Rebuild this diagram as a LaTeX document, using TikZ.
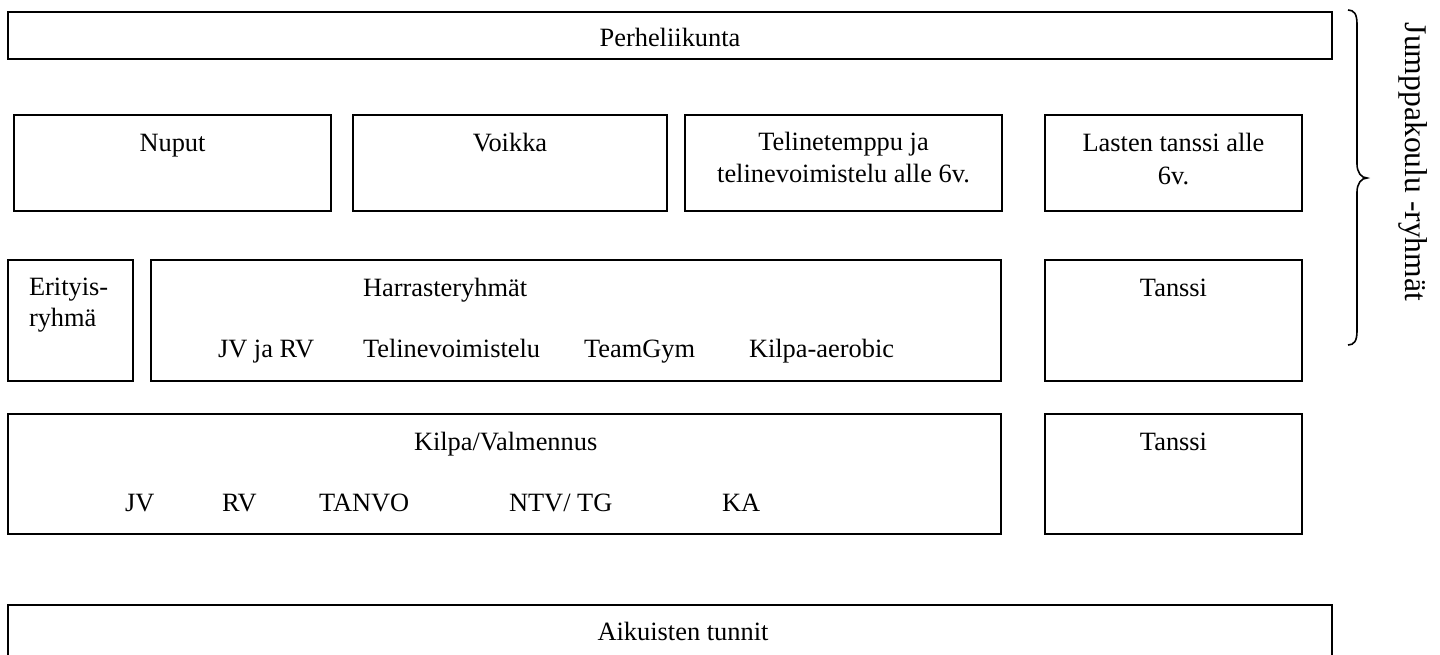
\documentclass[tikz,border=0pt]{standalone}
\usepackage{fontspec}
\setmainfont{Liberation Serif}
\begin{document}
\begin{tikzpicture}[x=0.5pt,y=-0.5pt,
  box/.style={draw=black,line width=0.9pt,rectangle,inner sep=0pt,outer sep=0pt},
  txt/.style={inner sep=0pt,outer sep=0pt,font=\fontsize{13.2}{15.5}\selectfont,anchor=base},
  txtw/.style={txt,anchor=base west},
  side/.style={inner sep=0pt,outer sep=0pt,font=\fontsize{15.8}{18}\selectfont,anchor=base,rotate=-90}]
\useasboundingbox (0,0) rectangle (1440,654);
% boxes
\node[box,minimum width=662pt,minimum height=23.5pt] (perhe) at (670,35.5) {};
\node[box,minimum width=158.5pt,minimum height=48pt] (nuput) at (172.5,163) {};
\node[box,minimum width=157pt,minimum height=48pt] (voikka) at (510,163) {};
\node[box,minimum width=158.5pt,minimum height=48pt] (teline) at (843.5,163) {};
\node[box,minimum width=128.5pt,minimum height=48pt] (lasten) at (1173.5,163) {};
\node[box,minimum width=62.5pt,minimum height=60.5pt] (erityis) at (70.5,320.5) {};
\node[box,minimum width=425pt,minimum height=60.5pt] (harraste) at (576,320.5) {};
\node[box,minimum width=128.5pt,minimum height=60.5pt] (tanssiA) at (1173.5,320.5) {};
\node[box,minimum width=496.5pt,minimum height=60pt] (kilpa) at (504.5,474) {};
\node[box,minimum width=128.5pt,minimum height=60pt] (tanssiB) at (1173.5,474) {};
\node[box,minimum width=662pt,minimum height=47.5pt] (aikuiset) at (670,652.5) {};
% texts
\node[txt] (tperhe) at (670,46) {Perheliikunta};
\node[txt] (tnuput) at (172.5,151) {Nuput};
\node[txt] (tvoikka) at (510,151) {Voikka};
\node[txt] (ttel1) at (843.5,150) {Telinetemppu ja};
\node[txt] (ttel2) at (843.5,182) {telinevoimistelu alle 6v.};
\node[txt] (tlas1) at (1173.5,151) {Lasten tanssi alle};
\node[txt] (tlas2) at (1173.5,184) {6v.};
\node[txtw] (teri1) at (29,295) {Erityis-};
\node[txtw] (teri2) at (29,326) {ryhmä};
\node[txtw] (tharr) at (363,296) {Harrasteryhmät};
\node[txtw] (tjvrv) at (218,357) {JV ja RV};
\node[txtw] (ttelv) at (363,357) {Telinevoimistelu};
\node[txtw] (tteam) at (584,357) {TeamGym};
\node[txtw] (taero) at (749,357) {Kilpa-aerobic};
\node[txt] (ttanA) at (1173.5,296) {Tanssi};
\node[txtw] (tkilpa) at (414,450) {Kilpa/Valmennus};
\node[txtw] (tjv) at (125,511) {JV};
\node[txtw] (trv) at (222,511) {RV};
\node[txtw] (ttanvo) at (319,511) {TANVO};
\node[txtw] (tntv) at (509,511) {NTV/ TG};
\node[txtw] (tka) at (722,511) {KA};
\node[txt] (ttanB) at (1173.5,450) {Tanssi};
\node[txt] (taik) at (683,640) {Aikuisten tunnit};
% brace
\draw[line width=0.8pt] (1348,10) .. controls (1354,10) and (1357,14) .. (1357,24) -- (1357,164)
  .. controls (1357,172) and (1361,178) .. (1367,178)
  .. controls (1361,178) and (1357,184) .. (1357,192) -- (1357,331)
  .. controls (1357,341) and (1354,345) .. (1348,345);
\node[side] (tjump) at (1405,162) {Jumppakoulu -ryhmät};
\end{tikzpicture}
\end{document}
